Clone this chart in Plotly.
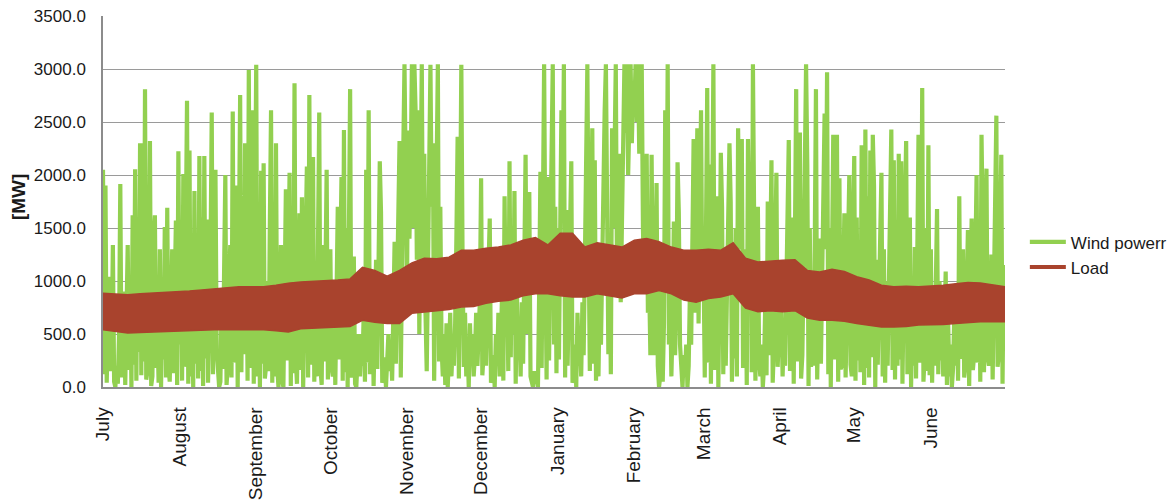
import numpy as np
import plotly.graph_objects as go

# Month labels on the category axis (first day of each month, days from 1 July)
months = ["July", "August", "September", "October", "November", "December",
          "January", "February", "March", "April", "May", "June"]
month_start_day = [0, 31, 62, 92, 123, 153, 184, 215, 243, 274, 304, 335]

# Wind power [MW], one value every 12 hours, per month
wind_jul = [2050, 120, 1900, 40, 600, 1040, 150, 380, 1340, 50, 0, 200, 30, 500, 1915, 90,
            250, 900, 20, 1100, 1340, 160, 1000, 0, 1620, 210, 2055, 60, 1500, 330, 2300, 110,
            2300, 240, 2810, 70, 150, 700, 2320, 10, 100, 1400, 1620, 180, 600, 40, 1300, 0,
            900, 260, 1510, 90, 1690, 200, 50, 600, 1300, 130, 800, 1570, 20, 2225]
wind_aug = [400, 1200, 60, 2010, 190, 1500, 2700, 30, 2230, 100, 1000, 0, 1850, 220, 1300, 80,
            2180, 150, 1600, 10, 2180, 270, 1580, 40, 600, 1200, 2590, 120, 1000, 2050, 350, 100,
            0, 50, 800, 170, 1200, 2000, 20, 200, 1000, 1340, 90, 2600, 230, 1300, 1900, 0,
            1200, 2755, 140, 1700, 310, 2300, 1500, 60, 2990, 180, 2000, 2610, 30, 1500]
wind_sep = [3040, 100, 1200, 0, 2040, 220, 2110, 80, 200, 1000, 150, 1500, 2610, 40, 1200, 100,
            2300, 190, 0, 600, 1340, 60, 0, 900, 1865, 250, 1000, 2020, 10, 1400, 130, 2865,
            280, 30, 900, 1640, 160, 1790, 0, 800, 1300, 2080, 90, 2755, 210, 1500, 2170, 50,
            800, 100, 1200, 2590, 170, 20, 1340, 240, 1000, 2050, 70, 1200]
wind_oct = [1300, 180, 100, 800, 20, 900, 1700, 260, 1200, 1980, 60, 2425, 140, 1500, 0, 1100,
            2810, 90, 200, 1230, 30, 0, 310, 500, 100, 500, 200, 700, 50, 2050, 230, 2610,
            120, 400, 900, 10, 500, 1200, 170, 1000, 2130, 1650, 40, 100, 280, 0, 400, 500,
            150, 400, 60, 600, 1370, 220, 1000, 1800, 2320, 90, 1700, 2200, 3045, 1400]
wind_nov = [900, 2420, 1400, 2000, 3045, 1500, 3045, 2600, 1200, 2610, 500, 1800, 3045, 1000, 2200, 700,
            150, 1100, 1800, 3040, 1700, 2300, 60, 1000, 1900, 3045, 240, 1700, 380, 100, 500, 20,
            600, 0, 300, 700, 100, 400, 200, 600, 1400, 2360, 80, 1600, 3040, 1200, 190, 700,
            100, 400, 0, 600, 200, 500, 100, 300, 700, 200, 500, 800]
wind_dec = [1970, 110, 300, 1000, 200, 600, 900, 1590, 40, 100, 300, 0, 500, 200, 700, 100,
            400, 900, 60, 1800, 600, 1100, 150, 2130, 280, 1400, 500, 1850, 30, 900, 300, 600,
            100, 800, 220, 1200, 2190, 500, 900, 1840, 100, 50, 0, 150, 50, 100, 0, 900,
            2030, 180, 1500, 3045, 1200, 70, 1980, 250, 1300, 2500, 3045, 400, 1700, 130]
wind_jan = [1500, 260, 1200, 2610, 1800, 3045, 90, 1670, 200, 800, 1500, 2130, 40, 100, 400, 0,
            700, 200, 500, 100, 800, 300, 1200, 2000, 3045, 1400, 150, 1500, 2440, 220, 2140, 60,
            700, 100, 900, 400, 1300, 2000, 2600, 3045, 1800, 310, 1300, 120, 2440, 1500, 2200, 3045,
            1000, 1600, 2200, 800, 1500, 2600, 3045, 2400, 3045, 2000, 2700, 3045, 2300, 2800]
wind_feb = [2600, 3045, 2500, 3045, 2200, 2800, 3045, 1500, 900, 1600, 2200, 700, 1000, 300, 2190, 800,
            300, 1000, 1925, 200, 0, 100, 1200, 50, 600, 2610, 1000, 3045, 400, 900, 100, 600,
            1560, 300, 800, 2120, 1650, 400, 200, 0, 300, 100, 400, 0, 200, 900, 400, 1300,
            2340, 700, 1500, 2440, 600, 1800, 2610, 900]
wind_mar = [1200, 90, 1500, 2820, 230, 2100, 30, 1200, 3045, 160, 500, 1800, 0, 1000, 2210, 1700,
            120, 1100, 200, 900, 1400, 2300, 1750, 50, 1200, 270, 1500, 100, 2440, 1300, 1800, 2340,
            180, 400, 1300, 20, 2340, 1500, 2000, 140, 3045, 1200, 60, 900, 1700, 250, 100, 400,
            0, 200, 800, 110, 1750, 300, 1200, 2140, 40, 400, 1300, 2020, 190, 500]
wind_apr = [300, 800, 100, 500, 200, 900, 1300, 2330, 150, 700, 1600, 30, 1200, 2810, 240, 1800,
            2400, 80, 300, 1100, 1900, 3045, 2100, 10, 1500, 190, 1000, 200, 1300, 2810, 70, 600,
            1400, 220, 900, 1800, 2580, 1300, 2970, 120, 1500, 0, 1200, 2380, 260, 1600, 2380, 50,
            1970, 170, 200, 900, 1640, 90, 800, 1400, 2000, 210, 100, 1500]
wind_may = [2180, 60, 1600, 250, 1200, 140, 2280, 1500, 20, 2430, 180, 1800, 90, 2230, 280, 2380,
            1900, 0, 1200, 210, 900, 1500, 2020, 100, 1300, 40, 1000, 200, 1200, 1800, 2430, 160,
            2140, 70, 1300, 200, 2200, 260, 2130, 30, 1100, 1700, 2320, 120, 1200, 1600, 0, 800,
            200, 1320, 80, 1000, 2380, 230, 700, 2820, 50, 300, 1500, 150, 2280, 110]
wind_jun = [1300, 40, 800, 200, 900, 1680, 120, 1000, 250, 700, 100, 500, 1090, 20, 600, 100,
            400, 0, 180, 700, 200, 900, 60, 1800, 270, 300, 1300, 90, 200, 900, 1480, 10,
            1000, 1590, 160, 300, 1200, 2000, 230, 1400, 50, 2380, 1500, 140, 1300, 2060, 280, 200,
            600, 1250, 70, 1000, 1800, 2560, 190, 300, 1400, 2190, 30, 1150]

# Load [MW]: daily band (upper and lower envelope) every 5 days
load_day = list(range(0, 366, 5))
load_high = [885, 880, 870, 880, 885, 895, 900, 905, 915, 925, 935, 945, 945, 945, 960, 980,
             990, 995, 1005, 1010, 1020, 1130, 1100, 1045, 1100, 1170, 1215, 1210, 1225, 1290, 1290, 1310,
             1320, 1340, 1385, 1410, 1340, 1450, 1450, 1320, 1360, 1340, 1320, 1385, 1400, 1370, 1320, 1290,
             1290, 1300, 1290, 1360, 1215, 1180, 1190, 1195, 1200, 1100, 1085, 1110, 1090, 1040, 1010, 960,
             945, 950, 945, 950, 960, 975, 985, 980, 960, 945]
load_low = [540, 525, 510, 515, 520, 520, 525, 535, 540, 540, 540, 540, 545, 540, 530, 520,
            550, 555, 555, 560, 570, 630, 610, 600, 600, 695, 710, 720, 730, 755, 760, 790,
            810, 820, 860, 880, 880, 860, 850, 850, 880, 860, 840, 880, 880, 910, 880, 820,
            800, 835, 850, 880, 745, 710, 720, 710, 720, 650, 630, 630, 620, 600, 585, 565,
            565, 570, 585, 585, 590, 600, 610, 615, 615, 615]

GREEN = "#92D050"
RED = "#A9432D"
FONT = "Liberation Sans, Arial, sans-serif"

wind = (wind_jul + wind_aug + wind_sep + wind_oct + wind_nov + wind_dec +
        wind_jan + wind_feb + wind_mar + wind_apr + wind_may + wind_jun)
assert len(wind) == 730 and len(load_high) == len(load_low) == len(load_day)
wind_day = np.arange(len(wind)) * 0.5

fig = go.Figure()
fig.add_trace(go.Scatter(x=wind_day, y=wind, mode="lines", name="Wind powerr",
                         line=dict(color=GREEN, width=4.2)))
fig.add_trace(go.Scatter(x=load_day, y=load_low, mode="lines", showlegend=False,
                         line=dict(color=RED, width=1.5), hoverinfo="skip"))
fig.add_trace(go.Scatter(x=load_day, y=load_high, mode="lines", showlegend=False,
                         fill="tonexty", fillcolor=RED,
                         line=dict(color=RED, width=1.5)))
fig.add_trace(go.Scatter(x=[None], y=[None], mode="lines", name="Load",
                         line=dict(color=RED, width=4)))

fig.update_layout(
    width=1175, height=503,
    margin=dict(l=103, r=170, t=16, b=116, autoexpand=False),
    paper_bgcolor="white", plot_bgcolor="white",
    font=dict(family=FONT, size=17, color="#1a1a1a"),
    showlegend=True,
    legend=dict(x=1.022, xanchor="left", y=0.356, yanchor="middle",
                font=dict(size=17), tracegroupgap=0, itemwidth=36,
                traceorder="normal", bgcolor="rgba(0,0,0,0)"),
    xaxis=dict(range=[0, 365], tickmode="array", tickvals=month_start_day, ticktext=months,
               tickangle=-90, tickfont=dict(size=19), showgrid=False, zeroline=False,
               showline=True, linecolor="#8c8c8c", linewidth=1.5, ticks="", ticklabelstandoff=11,
               automargin=False),
    yaxis=dict(range=[0, 3500], dtick=500, tickformat=".1f", showgrid=True,
               gridcolor="#9a9a9a", gridwidth=1, zeroline=False, showline=True,
               linecolor="#8c8c8c", linewidth=1.5, ticks="", ticklabelstandoff=12,
               tickfont=dict(size=17), automargin=False),
    annotations=[dict(text="<b>[MW]</b>", x=-0.0942, y=0.512, xref="paper", yref="paper",
                      xanchor="center", yanchor="middle",
                      showarrow=False, textangle=-90, font=dict(size=19, family=FONT))],
)

fig.write_html("out.html")
